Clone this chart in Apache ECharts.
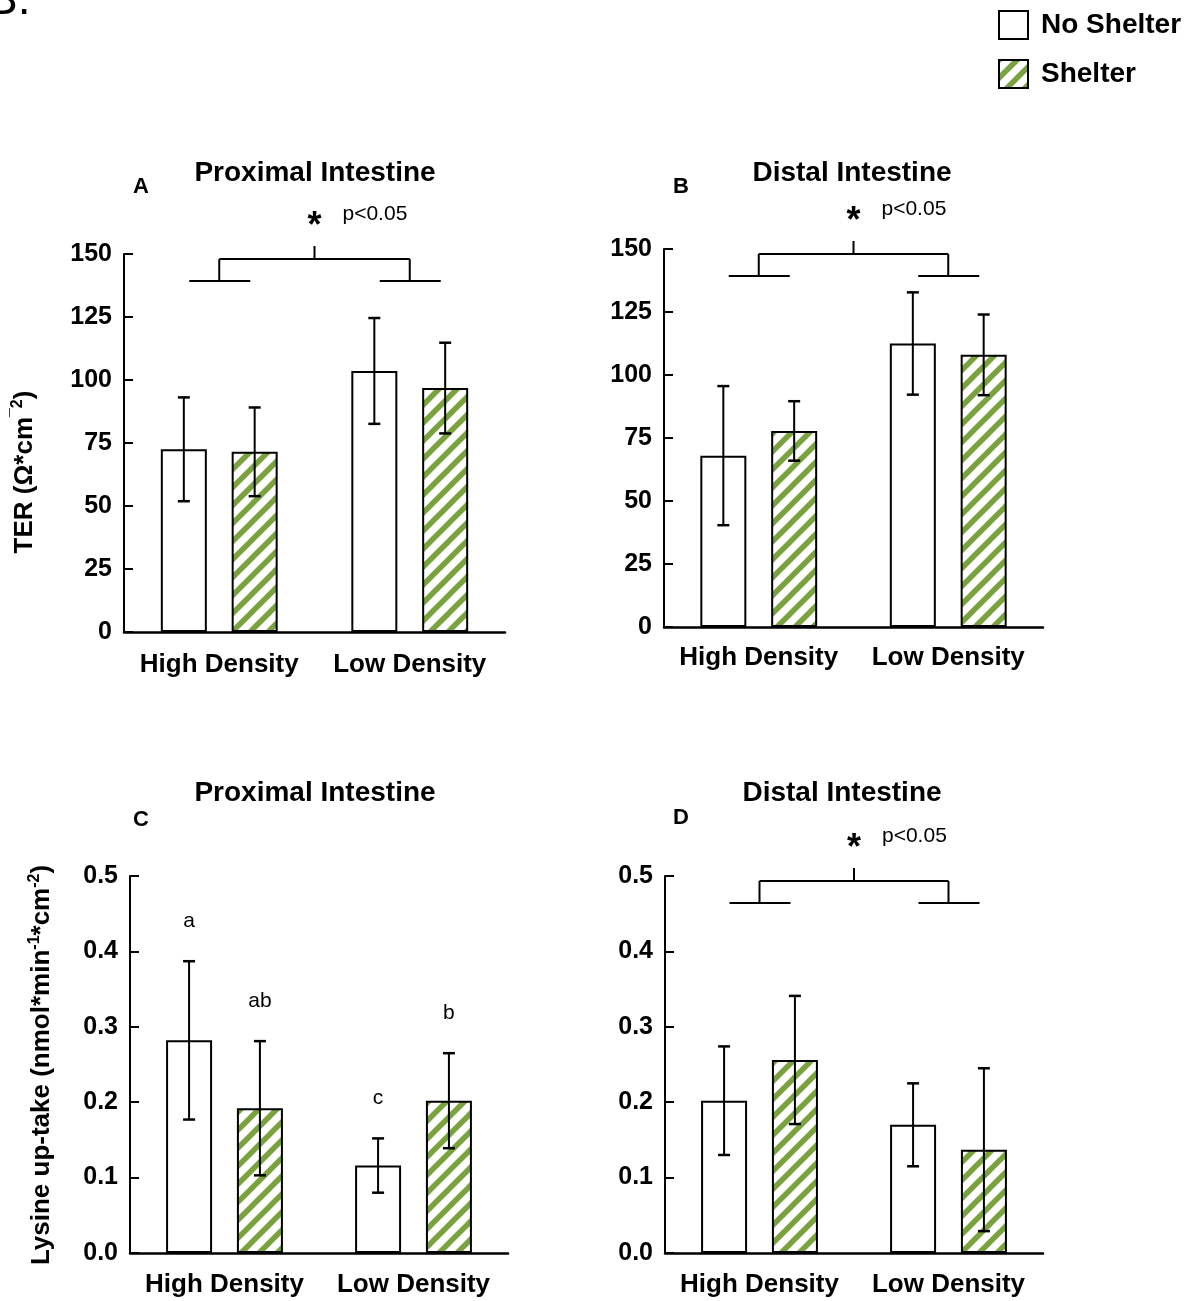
<!DOCTYPE html>
<html>
<head>
<meta charset="utf-8">
<script src="https://cdn.jsdelivr.net/npm/echarts@6/dist/echarts.min.js"></script>
<style>
  html, body { margin: 0; padding: 0; background: #fff; }
  #chart { width: 1203px; height: 1301px; }
</style>
</head>
<body>
<div id="chart"></div>
<script>
// ---- data ----
const categories = ['High Density', 'Low Density'];
const seriesNames = ['No Shelter', 'Shelter'];

// TER, proximal intestine (mean, SE)
const terProxNoShelter = [72.5, 103.6];
const terProxNoShelterSE = [20.6, 21.0];
const terProxShelter = [71.5, 96.8];
const terProxShelterSE = [17.6, 18.0];

// TER, distal intestine
const terDistNoShelter = [68.0, 112.5];
const terDistNoShelterSE = [27.6, 20.3];
const terDistShelter = [77.8, 108.0];
const terDistShelterSE = [11.8, 16.0];

// Lysine up-take, proximal intestine
const lysProxNoShelter = [0.282, 0.116];
const lysProxNoShelterSE = [0.105, 0.036];
const lysProxShelter = [0.192, 0.202];
const lysProxShelterSE = [0.089, 0.063];
const lysProxLettersNoShelter = ['a', 'c'];
const lysProxLettersShelter = ['ab', 'b'];

// Lysine up-take, distal intestine
const lysDistNoShelter = [0.202, 0.170];
const lysDistNoShelterSE = [0.072, 0.055];
const lysDistShelter = [0.256, 0.137];
const lysDistShelterSE = [0.085, 0.108];

const terTicks = { min: 0, max: 150, interval: 25 };
const lysTicks = { min: 0, max: 0.5, interval: 0.1 };
const sigText = 'p<0.05';

// ---- styling ----
const FONT = '"Liberation Sans", Arial, Helvetica, sans-serif';
const GREEN = '#7aa23e';
const BAR_W = 46;
const BAR_GAP = 0.54;
const BAR_OFFSET = (BAR_W + BAR_W * BAR_GAP) / 2;
const CAP = 6;

function makeHatch() {
  const n = 18;
  const c = document.createElement('canvas');
  c.width = n; c.height = n;
  const g = c.getContext('2d');
  g.fillStyle = '#fff';
  g.fillRect(0, 0, n, n);
  g.strokeStyle = GREEN;
  g.lineWidth = 5.5;
  g.beginPath();
  for (let k = -1; k <= 1; k++) {
    g.moveTo(k * n - 2, n + 2);
    g.lineTo(k * n + n + 2, -2);
  }
  g.stroke();
  return c;
}
const hatch = { image: makeHatch(), repeat: 'repeat' };

const grids = [
  { left: 124, top: 254, width: 381, height: 378 },
  { left: 664, top: 249, width: 379, height: 378 },
  { left: 130, top: 876, width: 378, height: 377 },
  { left: 665, top: 876, width: 378, height: 377 }
];
const labelMargins = [20, 18, 19, 19];

function yAxis(i, ticks, fmt) {
  return {
    type: 'value', gridIndex: i,
    min: ticks.min, max: ticks.max, interval: ticks.interval,
    splitLine: { show: false },
    axisLine: { show: true, lineStyle: { color: '#000', width: 2 } },
    axisTick: { show: true, inside: true, length: 9, lineStyle: { color: '#000', width: 2 } },
    axisLabel: {
      color: '#000', fontSize: 25, fontWeight: 'bold', fontFamily: FONT, margin: 12,
      formatter: fmt
    }
  };
}
function xAxis(i) {
  return {
    type: 'category', gridIndex: i, data: categories,
    axisLine: { show: true, lineStyle: { color: '#000', width: 2.5 } },
    axisTick: { show: false },
    axisLabel: {
      color: '#000', fontSize: 26, fontWeight: 'bold', fontFamily: FONT,
      margin: labelMargins[i], interval: 0, hideOverlap: false
    }
  };
}

function barSeries(axis, name, values, fill) {
  return {
    type: 'bar', name: name, xAxisIndex: axis, yAxisIndex: axis,
    data: values, barWidth: BAR_W, barGap: (BAR_GAP * 100) + '%',
    itemStyle: { color: fill, borderColor: '#000', borderWidth: 2 },
    silent: true, z: 2
  };
}

function errorSeries(axis, means, errs, side, letters) {
  return {
    type: 'custom', xAxisIndex: axis, yAxisIndex: axis, z: 5, silent: true,
    data: means.map((m, i) => [i, m, errs[i]]),
    encode: { x: 0, y: 1 },
    renderItem(params, api) {
      const i = api.value(0), m = api.value(1), e = api.value(2);
      const x = api.coord([i, m])[0] + side * BAR_OFFSET;
      const yTop = api.coord([i, m + e])[1];
      const yBot = api.coord([i, m - e])[1];
      const st = { stroke: '#000', lineWidth: 2 };
      const cs = { stroke: '#000', lineWidth: 2.5 };
      const ch = [
        { type: 'line', shape: { x1: x, y1: yTop, x2: x, y2: yBot }, style: st },
        { type: 'line', shape: { x1: x - CAP, y1: yTop, x2: x + CAP, y2: yTop }, style: cs },
        { type: 'line', shape: { x1: x - CAP, y1: yBot, x2: x + CAP, y2: yBot }, style: cs }
      ];
      if (letters) {
        ch.push({
          type: 'text', x: x, y: yTop - 40,
          style: {
            text: letters[params.dataIndex], fill: '#000',
            font: '21px ' + FONT,
            align: 'center', verticalAlign: 'middle',
            textAlign: 'center', textVerticalAlign: 'middle'
          }
        });
      }
      return { type: 'group', children: ch };
    }
  };
}

// significance bracket drawn just above the top of the value axis
function bracketSeries(axis, yMax) {
  return {
    type: 'custom', xAxisIndex: axis, yAxisIndex: axis, z: 5, silent: true, clip: false,
    data: [[0, yMax]],
    encode: { x: 0, y: 1 },
    renderItem(params, api) {
      const a = api.coord([0, yMax]);
      const b = api.coord([1, yMax]);
      const top = a[1];
      const xl = a[0], xr = b[0], xm = (xl + xr) / 2;
      const yb = top + 5, yl = top + 27, yt = top - 8;
      const st = { stroke: '#000', lineWidth: 2 };
      const L = (x1, y1, x2, y2) => ({ type: 'line', shape: { x1, y1, x2, y2 }, style: st });
      return {
        type: 'group',
        children: [
          L(xl, yb, xr, yb),
          L(xl, yb, xl, yl),
          L(xr, yb, xr, yl),
          L(xm, yb, xm, yt),
          L(xl - 30, yl, xl + 31, yl),
          L(xr - 30, yl, xr + 31, yl),
          {
            type: 'text', x: xm, y: yt - 28 + 9,
            style: {
              text: '*', fill: '#000', font: 'bold 36px ' + FONT,
              align: 'center', verticalAlign: 'middle',
              textAlign: 'center', textVerticalAlign: 'middle'
            }
          },
          {
            type: 'text', x: xm + 28, y: yt - 32,
            style: {
              text: sigText, fill: '#000', font: '21px ' + FONT,
              align: 'left', verticalAlign: 'middle',
              textAlign: 'left', textVerticalAlign: 'middle'
            }
          }
        ]
      };
    }
  };
}

function label(text, x, y, size, weight, extra) {
  return Object.assign({
    type: 'text', x: x, y: y, silent: true,
    style: {
      text: text, fill: '#000',
      font: (weight || 'normal') + ' ' + size + 'px ' + FONT,
      align: 'center', verticalAlign: 'middle',
      textAlign: 'center', textVerticalAlign: 'middle'
    }
  }, extra || {});
}

function richLabel(text, x, y, rich) {
  return {
    type: 'text', x: x, y: y, rotation: Math.PI / 2, silent: true,
    style: {
      text: text, fill: '#000',
      font: 'bold 26px ' + FONT,
      align: 'center', verticalAlign: 'middle',
      textAlign: 'center', textVerticalAlign: 'middle',
      rich: rich
    }
  };
}
const richStyles = {
  n: { fontSize: 26, fontWeight: 'bold', fontFamily: FONT, fill: '#000', lineHeight: 30 },
  s: { fontSize: 16, fontWeight: 'bold', fontFamily: FONT, fill: '#000', verticalAlign: 'top', lineHeight: 30 }
};

const lysFmt = v => v.toFixed(1);

const option = {
  backgroundColor: '#fff',
  animation: false,
  legend: {
    data: seriesNames,
    orient: 'vertical', left: 998, top: 10, padding: 0,
    itemWidth: 29, itemHeight: 28, itemGap: 19,
    icon: 'rect', selectedMode: false,
    textStyle: { color: '#000', fontSize: 28, fontWeight: 'bold', fontFamily: FONT, padding: [0, 0, 0, 8] }
  },
  grid: grids,
  xAxis: [xAxis(0), xAxis(1), xAxis(2), xAxis(3)],
  yAxis: [
    yAxis(0, terTicks),
    yAxis(1, terTicks),
    yAxis(2, lysTicks, lysFmt),
    yAxis(3, lysTicks, lysFmt)
  ],
  series: [
    barSeries(0, seriesNames[0], terProxNoShelter, '#fff'),
    barSeries(0, seriesNames[1], terProxShelter, hatch),
    barSeries(1, seriesNames[0], terDistNoShelter, '#fff'),
    barSeries(1, seriesNames[1], terDistShelter, hatch),
    barSeries(2, seriesNames[0], lysProxNoShelter, '#fff'),
    barSeries(2, seriesNames[1], lysProxShelter, hatch),
    barSeries(3, seriesNames[0], lysDistNoShelter, '#fff'),
    barSeries(3, seriesNames[1], lysDistShelter, hatch),
    errorSeries(0, terProxNoShelter, terProxNoShelterSE, -1),
    errorSeries(0, terProxShelter, terProxShelterSE, 1),
    errorSeries(1, terDistNoShelter, terDistNoShelterSE, -1),
    errorSeries(1, terDistShelter, terDistShelterSE, 1),
    errorSeries(2, lysProxNoShelter, lysProxNoShelterSE, -1, lysProxLettersNoShelter),
    errorSeries(2, lysProxShelter, lysProxShelterSE, 1, lysProxLettersShelter),
    errorSeries(3, lysDistNoShelter, lysDistNoShelterSE, -1),
    errorSeries(3, lysDistShelter, lysDistShelterSE, 1),
    bracketSeries(0, terTicks.max),
    bracketSeries(1, terTicks.max),
    bracketSeries(3, lysTicks.max)
  ],
  graphic: [
    label('B.', -13, 1, 46, 'normal', { style: {
      text: 'B.', fill: '#000', font: '46px ' + FONT,
      align: 'left', verticalAlign: 'middle', textAlign: 'left', textVerticalAlign: 'middle' } }),
    label('Proximal Intestine', 315, 173, 28, 'bold'),
    label('Distal Intestine', 852, 173, 28, 'bold'),
    label('Proximal Intestine', 315, 793, 28, 'bold'),
    label('Distal Intestine', 842, 793, 28, 'bold'),
    label('A', 141, 187, 22, 'bold'),
    label('B', 681, 187, 22, 'bold'),
    label('C', 141, 820, 22, 'bold'),
    label('D', 681, 818, 22, 'bold'),
    richLabel('{n|TER (Ω*cm}{s|¯2}{n|)}', 25, 472, richStyles),
    richLabel('{n|Lysine up-take (nmol*min}{s|-1}{n|*cm}{s|-2}{n|)}', 42, 1065, richStyles)
  ]
};

const chart = echarts.init(document.getElementById('chart'), null, { renderer: 'canvas' });
chart.setOption(option);
</script>
</body>
</html>
